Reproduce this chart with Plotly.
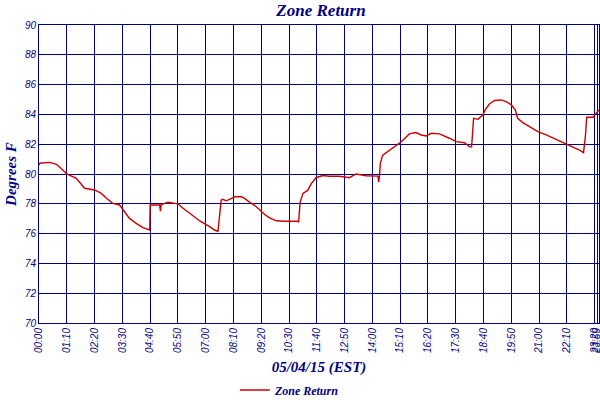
#######
# Zone Return temperature over one day (05/04/15), line chart
######

import plotly.graph_objs as go

# minutes after midnight and zone return temperature (deg F)
minutes = [0, 2, 27, 44, 60, 70, 94, 115, 140, 157, 170, 186, 203, 216, 228, 245, 262, 279,
           280, 304, 306, 308, 325, 350, 363, 388, 405, 430, 442, 451, 455, 459, 463, 472,
           485, 493, 510, 518, 531, 543, 556, 568, 581, 598, 619, 652, 654, 656, 658, 665,
           677, 686, 698, 715, 732, 757, 782, 799, 824, 854, 856, 858, 860, 866, 883, 900,
           913, 933, 950, 963, 976, 988, 1009, 1034, 1051, 1072, 1085, 1090, 1095, 1106,
           1118, 1125, 1135, 1148, 1164, 1177, 1190, 1200, 1206, 1219, 1236, 1257, 1278,
           1303, 1324, 1345, 1362, 1372, 1377, 1380, 1396, 1404, 1411]
temps = [80.6, 80.72, 80.78, 80.65, 80.27, 80.0, 79.71, 79.04, 78.93, 78.7, 78.37, 78.03, 77.92,
         77.47, 77.02, 76.69, 76.4, 76.24,
         77.92, 77.92, 77.5, 77.95, 78.1, 78.0, 77.7, 77.2, 76.85, 76.47, 76.24, 76.15, 77.1,
         78.24, 78.3, 78.2,
         78.36, 78.47, 78.47, 78.36, 78.1, 77.9, 77.6, 77.3, 77.06, 76.86, 76.83, 76.83, 76.75,
         77.6, 78.1, 78.7,
         78.9, 79.35, 79.75, 79.9, 79.85, 79.85, 79.75, 80.0, 79.88, 79.86, 79.45, 79.9, 80.72,
         81.27, 81.6, 81.94,
         82.16, 82.69, 82.78, 82.62, 82.55, 82.73, 82.69, 82.4, 82.17, 82.1, 81.82, 81.82, 83.74,
         83.67,
         83.96, 84.34, 84.7, 84.93, 84.97, 84.86, 84.64, 84.3, 83.74, 83.45, 83.18, 82.84, 82.62,
         82.33, 82.06, 81.79, 81.61, 81.43, 82.62, 83.81, 83.81, 84.08, 84.3]

# x tick positions (minutes) and labels
tick_pos = [0, 70, 140, 210, 280, 350, 420, 490, 560, 630, 700, 770, 840, 910, 980,
            1050, 1120, 1190, 1260, 1330, 1400, 1406]
tick_text = ['00:00', '01:10', '02:20', '03:30', '04:40', '05:50', '07:00', '08:10', '09:20',
             '10:30', '11:40', '12:50', '14:00', '15:10', '16:20', '17:30', '18:40', '19:50',
             '21:00', '22:10', '23:20', '23:59']

navy = '#000080'
serif = 'Liberation Serif'
sans = 'Liberation Sans'

data = [go.Scatter(
            x=minutes,
            y=temps,
            mode='lines',
            line=dict(color='#cc0000', width=1.4),
            name='Zone Return')]

layout = go.Layout(
    width=600, height=400,
    paper_bgcolor='white', plot_bgcolor='white',
    margin=dict(l=39, r=1, t=25, b=77, autoexpand=False),
    title=dict(text='Zone Return', x=0.535, xanchor='center', y=0.975, yanchor='middle',
               font=dict(family=serif, size=17, color=navy, style='italic', weight='bold')),
    xaxis=dict(range=[0, 1411], tickvals=tick_pos, ticktext=tick_text, tickangle=-90,
               automargin=False, ticklabeloverflow='allow',
               showgrid=True, gridcolor=navy, gridwidth=1, zeroline=False,
               showline=True, linecolor=navy, linewidth=1, mirror=True, ticks='',
               tickfont=dict(family=sans, size=10, color=navy, style='italic'),
               title=dict(text='05/04/15 (EST)', standoff=8,
                          font=dict(family=serif, size=15, color=navy, style='italic',
                                    weight='bold'))),
    yaxis=dict(range=[70, 90], dtick=2, showgrid=True, gridcolor=navy, gridwidth=1,
               automargin=False,
               zeroline=False, showline=True, linecolor=navy, linewidth=1, mirror=True,
               ticks='', tickfont=dict(family=sans, size=10, color=navy, style='italic'),
               title=dict(text='Degrees F', standoff=4,
                          font=dict(family=serif, size=15, color=navy, style='italic',
                                    weight='bold'))),
    showlegend=True,
    legend=dict(orientation='h', x=0.448, xanchor='center', y=-0.225, yanchor='middle',
                font=dict(family=serif, size=12, color=navy, style='italic', weight='bold')),
)

fig = go.Figure(data=data, layout=layout)
# page has a default body margin; drop it so the figure fills the window
fig.write_html('out.html', config={'displayModeBar': False},
               post_script="document.body.style.margin='0';")
